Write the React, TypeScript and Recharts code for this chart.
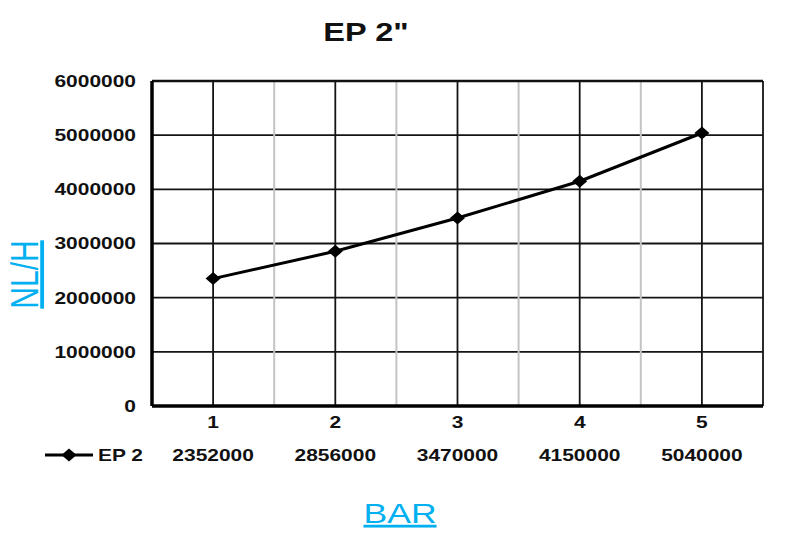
import React from 'react';
import { LineChart, Line, XAxis, YAxis, CartesianGrid, ReferenceLine } from 'recharts';

const categories = [1, 2, 3, 4, 5];
const ep2Values = [2352000, 2856000, 3470000, 4150000, 5040000];
const yTicks = [0, 1000000, 2000000, 3000000, 4000000, 5000000, 6000000];
const seriesName = 'EP 2';
const titleText = 'EP 2"';
const xTitle = 'BAR';
const yTitle = 'NL/H';

const data = categories.map((c, i) => ({ x: c, ep2: ep2Values[i] }));
const minorLines = categories.slice(0, -1).map((c) => c + 0.5);
const xDomain = [categories[0] - 0.5, categories[categories.length - 1] + 0.5];

const SX = 1.27;
const FONT = '"Liberation Sans", Arial, sans-serif';
const CYAN = '#00B0F0';

const YTick = (props: any) => {
  const { x, y, payload } = props;
  return (
    <text
      transform={`translate(${x},${y}) scale(${SX},1)`}
      x={0}
      y={0}
      dy="0.355em"
      textAnchor="end"
      fontFamily={FONT}
      fontWeight="bold"
      fontSize={16.5}
      fill="#111"
    >
      {payload.value}
    </text>
  );
};

const XTick = (props: any) => {
  const { x, y, payload } = props;
  const idx = categories.indexOf(payload.value);
  return (
    <g>
      <text
        transform={`translate(${x},${y}) scale(${SX},1)`}
        x={0}
        y={0}
        dy="0.71em"
        textAnchor="middle"
        fontFamily={FONT}
        fontWeight="bold"
        fontSize={16.5}
        fill="#111"
      >
        {payload.value}
      </text>
      <text
        transform={`translate(${x},${y + 33}) scale(${SX},1)`}
        x={0}
        y={0}
        dy="0.71em"
        textAnchor="middle"
        fontFamily={FONT}
        fontWeight="bold"
        fontSize={16.5}
        fill="#111"
      >
        {idx >= 0 ? ep2Values[idx] : ''}
      </text>
    </g>
  );
};

const Diamond = (props: any) => {
  const { cx, cy } = props;
  if (cx == null || cy == null) return null;
  return (
    <polygon
      points={`${cx},${cy - 6.5} ${cx + 7.5},${cy} ${cx},${cy + 6.5} ${cx - 7.5},${cy}`}
      fill="#000"
      stroke="none"
    />
  );
};

export default function App() {
  return (
    <div style={{ position: 'absolute', left: 0, top: 0, width: 795, height: 542, background: '#fff' }}>
      <LineChart
        width={795}
        height={542}
        data={data}
        margin={{ top: 81, right: 32, left: 0, bottom: 76 }}
      >
        <CartesianGrid stroke="#141414" strokeWidth={1.8} />
        {minorLines.map((b) => (
          <ReferenceLine key={b} x={b} stroke="#c4c4c4" strokeWidth={2} />
        ))}
        <ReferenceLine y={yTicks[yTicks.length - 1]} stroke="#111" strokeWidth={2.5} ifOverflow="visible" />
        <XAxis
          dataKey="x"
          type="number"
          domain={xDomain}
          ticks={categories}
          interval={0}
          height={60}
          tickLine={false}
          tickSize={0}
          tickMargin={10}
          axisLine={{ stroke: '#000', strokeWidth: 3.5 }}
          tick={<XTick />}
        />
        <YAxis
          type="number"
          domain={[0, yTicks[yTicks.length - 1]]}
          ticks={yTicks}
          interval={0}
          width={152}
          tickLine={false}
          tickSize={0}
          tickMargin={16}
          axisLine={{ stroke: '#000', strokeWidth: 3.5 }}
          tick={<YTick />}
        />
        <YAxis
          yAxisId="right"
          orientation="right"
          type="number"
          domain={[0, yTicks[yTicks.length - 1]]}
          ticks={yTicks}
          width={0}
          tick={false}
          tickLine={false}
          axisLine={{ stroke: '#000', strokeWidth: 4.5 }}
        />
        <Line
          type="linear"
          dataKey="ep2"
          name={seriesName}
          stroke="#000"
          strokeWidth={3}
          dot={<Diamond />}
          activeDot={false}
          isAnimationActive={false}
        />
      </LineChart>
      <svg
        width={795}
        height={542}
        style={{ position: 'absolute', left: 0, top: 0, pointerEvents: 'none' }}
      >
        <text
          transform={`translate(366,41) scale(1.3,1)`}
          textAnchor="middle"
          fontFamily={FONT}
          fontWeight="bold"
          fontSize={25}
          fill="#111"
        >
          {titleText}
        </text>
        <text
          transform={`translate(38,274.5) scale(${SX},1) rotate(-90)`}
          textAnchor="middle"
          fontFamily={FONT}
          fontSize={30}
          fill={CYAN}
          style={{ textDecoration: 'underline' }}
        >
          {yTitle}
        </text>
        <text
          transform={`translate(400,523) scale(${SX},1)`}
          textAnchor="middle"
          fontFamily={FONT}
          fontSize={28}
          fill={CYAN}
          style={{ textDecoration: 'underline' }}
        >
          {xTitle}
        </text>
        <line x1={45} y1={455} x2={93} y2={455} stroke="#000" strokeWidth={3} />
        <polygon points="69,448.5 76.5,455 69,461.5 61.5,455" fill="#000" />
        <text
          transform={`translate(98,460.5) scale(${SX},1)`}
          fontFamily={FONT}
          fontWeight="bold"
          fontSize={16.5}
          fill="#111"
        >
          {seriesName}
        </text>
      </svg>
    </div>
  );
}
